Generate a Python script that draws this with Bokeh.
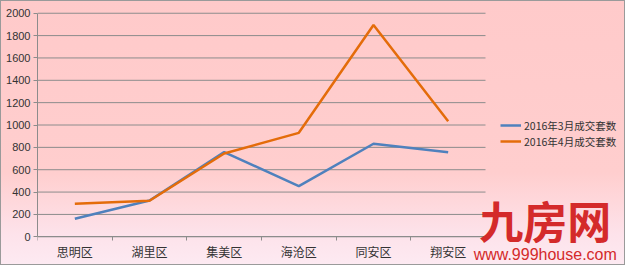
from bokeh.plotting import figure
from bokeh.models import (ColumnDataSource, FixedTicker, Range1d, Legend, LegendItem,
                          Label)
from bokeh.embed import file_html
from bokeh.resources import INLINE

categories = ["思明区", "湖里区", "集美区", "海沧区", "同安区", "翔安区"]
march = [161, 325, 757, 453, 832, 757]
april = [295, 322, 745, 930, 1895, 1034]
series_names = ["2016年3月成交套数", "2016年4月成交套数"]
y_ticks = [0, 200, 400, 600, 800, 1000, 1200, 1400, 1600, 1800, 2000]

n = len(categories)
xs = [i + 0.5 for i in range(n)]
src = ColumnDataSource(dict(x=xs, march=march, april=april))
grid_src = ColumnDataSource(dict(y=y_ticks, x0=[0] * len(y_ticks), x1=[n] * len(y_ticks)))

p = figure(width=625, height=265, output_backend="svg", toolbar_location=None,
           x_range=Range1d(0, 7.875), y_range=Range1d(-257, 2114),
           min_border_left=37, min_border_right=0, min_border_top=0,
           min_border_bottom=0)
p.outline_line_color = None
p.background_fill_alpha = 0
p.border_fill_alpha = 0
p.styles = {"background": "linear-gradient(to bottom, #ffcaca 0%, #ffcece 65%, #fde2ea 88%, #fdeaf2 100%)",
            "outline": "1px solid #9a9a9a", "outline-offset": "-1px"}

p.xgrid.grid_line_color = None
p.ygrid.grid_line_color = None
p.segment(x0="x0", x1="x1", y0="y", y1="y", source=grid_src,
          line_color="#8c8c8c", line_width=1)

p.yaxis.ticker = FixedTicker(ticks=y_ticks)
p.yaxis.bounds = (0, 2000)
p.yaxis.axis_line_color = "#8c8c8c"
p.yaxis.major_tick_line_color = "#8c8c8c"
p.yaxis.major_tick_out = 4
p.yaxis.major_tick_in = 0
p.yaxis.minor_tick_line_color = None
p.yaxis.major_label_text_font = "Liberation Sans"
p.yaxis.major_label_text_font_size = "11px"
p.yaxis.major_label_text_color = "#333333"
p.yaxis.major_label_standoff = 3

p.xaxis.fixed_location = 0
p.xaxis.bounds = (0, n)
p.xaxis.ticker = FixedTicker(ticks=xs, minor_ticks=list(range(n + 1)))
p.xaxis.major_label_overrides = {x: c for x, c in zip(xs, categories)}
p.xaxis.axis_line_color = "#8c8c8c"
p.xaxis.major_tick_line_color = None
p.xaxis.minor_tick_line_color = "#8c8c8c"
p.xaxis.minor_tick_out = 4
p.xaxis.minor_tick_in = 0
p.xaxis.major_label_text_font = "Noto Sans CJK SC"
p.xaxis.major_label_text_font_size = "12px"
p.xaxis.major_label_text_color = "#333333"
p.xaxis.major_label_standoff = 0

r1 = p.line("x", "march", source=src, line_color="#4f81bd", line_width=2.5)
r2 = p.line("x", "april", source=src, line_color="#e46c0a", line_width=2.5)

legend = Legend(items=[LegendItem(label=series_names[0], renderers=[r1]),
                       LegendItem(label=series_names[1], renderers=[r2])],
                location=(463, 116), orientation="vertical")
legend.background_fill_alpha = 0
legend.border_line_color = None
legend.padding = 0
legend.margin = 0
legend.spacing = 0
legend.glyph_width = 21
legend.glyph_height = 16
legend.label_height = 16
legend.label_standoff = 3
legend.label_text_font = "Noto Sans CJK SC"
legend.label_text_font_size = "10.5px"
legend.label_text_color = "#333333"
p.add_layout(legend, "center")

logo = Label(x=6.80, y=146, text="九房网", text_align="center", text_baseline="middle",
             text_font="Noto Sans CJK SC", text_font_size="44px", text_font_style="bold",
             text_color="#d42a2a")
site = Label(x=6.80, y=-163, text="www.999house.com", text_align="center",
             text_baseline="middle", text_font="Liberation Sans", text_font_size="16px",
             text_color="#d42a2a")
p.add_layout(logo)
p.add_layout(site)

open("out.html", "w").write(file_html(p, INLINE))
